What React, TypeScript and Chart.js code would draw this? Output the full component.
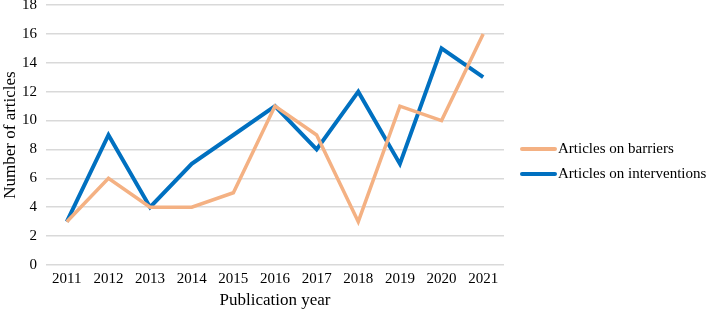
import React, { useEffect, useRef } from "react";
import { Chart, registerables } from "chart.js";

Chart.register(...registerables);

const years = ["2011", "2012", "2013", "2014", "2015", "2016", "2017", "2018", "2019", "2020", "2021"];
const barriers = [3, 6, 4, 4, 5, 11, 9, 3, 11, 10, 16];
const interventions = [3, 9, 4, 7, 9, 11, 8, 12, 7, 15, 13];
const seriesNames = ["Articles on barriers", "Articles on interventions"];
const seriesColors = ["#F4B183", "#0070C0"];

const FONT = "'Liberation Serif', 'Times New Roman', serif";

export default function App() {
  const ref = useRef<HTMLCanvasElement | null>(null);
  useEffect(() => {
    document.body.style.margin = "0";
    const chart = new Chart(ref.current!, {
      type: "line",
      data: {
        labels: years,
        datasets: [
          {
            label: seriesNames[0],
            data: barriers,
            borderColor: seriesColors[0],
            backgroundColor: seriesColors[0],
            borderWidth: 3.5,
            pointRadius: 0,
            tension: 0,
          },
          {
            label: seriesNames[1],
            data: interventions,
            borderColor: seriesColors[1],
            backgroundColor: seriesColors[1],
            borderWidth: 4,
            pointRadius: 0,
            tension: 0,
          },
        ],
      },
      options: {
        animation: false,
        responsive: false,
        layout: { padding: { top: 5, right: 204, left: 0, bottom: 0 } },
        plugins: {
          legend: { display: false },
          tooltip: { enabled: false },
        },
        scales: {
          x: {
            offset: true,
            grid: { display: false, drawTicks: false },
            border: { display: false },
            ticks: { color: "#000", font: { family: FONT, size: 15 }, padding: 5, maxRotation: 0 },
            title: { display: true, text: "Publication year", color: "#000", font: { family: FONT, size: 17 }, padding: { top: 2, bottom: 0 } },
            afterFit: (s: any) => {
              s.height = 46;
              s.paddingLeft = 0;
              s.paddingRight = 0;
            },
          },
          y: {
            min: 0,
            max: 18,
            ticks: { stepSize: 2, color: "#000", font: { family: FONT, size: 15 }, padding: 9 },
            grid: { color: "#d9d9d9", lineWidth: 1.5, drawTicks: false },
            border: { display: false },
            title: { display: true, text: "Number of articles", color: "#000", font: { family: FONT, size: 17 }, padding: { top: 0, bottom: 0 } },
            afterFit: (s: any) => {
              s.width = 46;
              s.paddingTop = 0;
              s.paddingBottom = 0;
            },
          },
        },
      },
    });
    return () => chart.destroy();
  }, []);
  return (
    <div style={{ position: "relative", width: 708, height: 311 }}>
      <canvas ref={ref} width={708} height={311} style={{ display: "block" }} />
      <div style={{ position: "absolute", left: 520, top: 136, fontFamily: FONT, fontSize: 15, color: "#000" }}>
        {seriesNames.map((n, i) => (
          <div key={n} style={{ display: "flex", alignItems: "center", height: 25, whiteSpace: "nowrap" }}>
            <span style={{ display: "inline-block", width: 37, height: 4, borderRadius: 2, background: seriesColors[i], marginRight: 1 }} />
            <span>{n}</span>
          </div>
        ))}
      </div>
    </div>
  );
}
